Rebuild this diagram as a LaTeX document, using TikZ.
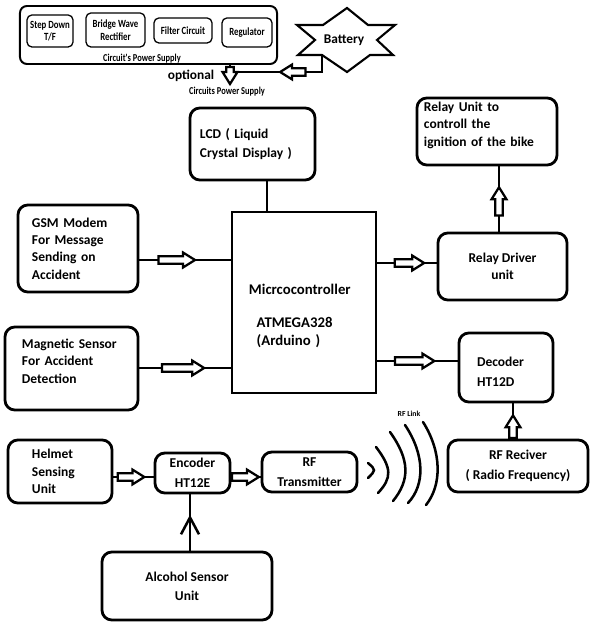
\documentclass[tikz,border=0pt]{standalone}
\usepackage{fontspec}
\setmainfont{Carlito}
\newfontfamily\condfont[FakeStretch=0.8]{Carlito}
\usetikzlibrary{decorations.markings}

\tikzset{
  box/.style={draw, line width=2pt, rounded corners=7pt, inner sep=0pt,
    font=\bfseries\fontsize{9.6}{12.4}\selectfont},
  psubox/.style={draw, line width=0.9pt, rounded corners=3.5pt, inner sep=0pt, align=center,
    font=\condfont\bfseries\fontsize{7.8}{9}\selectfont},
  small text/.style={font=\condfont\bfseries\fontsize{7.5}{9}\selectfont, inner sep=0pt},
  link/.style={line width=1.8pt},
  fat arrow/.style 2 args={postaction={decorate}, decoration={markings,
    mark=at position #1 with {\draw[line width=1.6pt, fill=white, line join=miter]
      (-#2,-2.6pt) -- (-8.5pt,-2.6pt) -- (-8.5pt,-5.3pt) -- (0,0) -- (-8.5pt,5.3pt)
      -- (-8.5pt,2.6pt) -- (-#2,2.6pt) -- cycle;}}},
  open arrow/.style={postaction={decorate}, decoration={markings,
    mark=at position #1 with {\draw[line width=1.8pt] (-12pt,-6.4pt) -- (0,0) -- (-12pt,6.4pt);}}},
}

\begin{document}
\begin{tikzpicture}[x=0.025cm, y=-0.025cm]
\useasboundingbox (0,0) rectangle (600,628);

% power supply block
\node[draw, line width=1.4pt, rounded corners=5pt, minimum width=6.425cm, minimum height=1.45cm] (psu) at (148.5,35) {};
\node[psubox, minimum width=1.15cm, minimum height=0.8cm] (stepdown) at (50,31) {Step Down\\T/F};
\node[psubox, minimum width=1.475cm, minimum height=0.85cm] (bridge) at (115.5,30) {Bridge Wave\\Rectifier};
\node[psubox, minimum width=1.45cm, minimum height=0.625cm] (filter) at (183,30.5) {Filter Circuit};
\node[psubox, minimum width=1.25cm, minimum height=0.725cm] (regulator) at (247,32.5) {Regulator};
\node[small text] (psulabel) at (142,59) {Circuit's Power Supply};

% battery
\begin{scope}[shift={(347,40)}]
  \draw[line width=1.5pt, line join=miter] (0,-32) -- (21,-15) -- (48,-15) -- (30,0) -- (46,15) -- (23,15)
    -- (0,32) -- (-25,15) -- (-49,15) -- (-32,0) -- (-50,-15) -- (-24,-15) -- cycle;
  \node[font=\bfseries\fontsize{9.5}{11}\selectfont] (battery) at (-3,0) {Battery};
  \coordinate (battout) at (-25,15);
\end{scope}
\coordinate (opt) at (230,72);
\coordinate (optend) at (230,84);
\draw[line width=1.5pt, fat arrow={0.54}{18pt}] (battout) |- (opt);
\draw[line width=1.5pt, fat arrow={1}{12pt}] (psu.south -| opt) -- (optend);
\node[font=\bfseries\fontsize{9.5}{11}\selectfont, inner sep=0pt] (optional) at (191,76) {optional};
\node[small text] (optlabel) at (227,92) {Circuits Power Supply};

% main blocks
\node[box, minimum width=3.125cm, minimum height=1.8cm, text width=2.625cm, align=left] (lcd) at (252.5,144) {LCD ( Liquid\\[1.6pt]Crystal Display )};
\node[draw, line width=2pt, inner sep=0pt, minimum width=3.6cm, minimum height=4.525cm, text width=2.75cm, align=left,
  text height=26pt, font=\bfseries\fontsize{10.5}{12.8}\selectfont] (mcu) at (304,302.5)
  {Micrcocontroller\\[10.6pt]\hspace*{5.5pt}ATMEGA328\\\hspace*{5.5pt}(Arduino )};
\node[box, minimum width=3cm, minimum height=2.175cm, text width=2.3cm, align=left] (gsm) at (78,248.5) {GSM Modem\\For Message\\Sending on\\Accident};
\node[box, minimum width=3.325cm, minimum height=2.075cm, text width=2.475cm, align=left, text depth=35.3pt] (mag) at (71.5,368.5) {Magnetic Sensor\\For Accident\\Detection};
\node[box, minimum width=3.5cm, minimum height=1.675cm, text width=3.15cm, align=left, text depth=35.6pt] (relayunit) at (487,131.5) {Relay Unit to\\controll the\\ignition of the bike};
\node[box, minimum width=3.225cm, minimum height=1.675cm, align=center] (relaydriver) at (502.5,266.5) {Relay Driver\\unit};
\node[box, minimum width=2.35cm, minimum height=1.725cm, text width=1.45cm, align=left, text height=13pt] (decoder) at (506,367.5) {Decoder\\[2pt]HT12D};
\node[box, minimum width=3.5cm, minimum height=1.3cm, align=center] (rfrx) at (518,466) {RF Reciver\\[2pt]( Radio Frequency)};
\node[box, minimum width=2.6cm, minimum height=1.575cm, text width=1.4cm, align=left] (helmet) at (60,471.5) {Helmet\\Sensing\\Unit};
\node[box, minimum width=1.875cm, minimum height=1cm, align=center] (encoder) at (192.5,473) {Encoder\\[2pt]HT12E};
\node[box, minimum width=2.375cm, minimum height=1cm, align=center] (rftx) at (309.5,472) {RF\\[2pt]Transmitter};
\node[box, minimum width=4.25cm, minimum height=1.7cm, align=center] (alcohol) at (187,586) {Alcohol Sensor\\[1pt]Unit};

% connections
\draw[link] (lcd.south -| 267,0) -- (mcu.north -| 267,0);
\draw[link, fat arrow={0.61}{26pt}] (gsm.east |- 0,260) -- (mcu.west |- 0,260);
\draw[link, fat arrow={0.71}{30pt}] (mag.east |- 0,368) -- (mcu.west |- 0,368);
\draw[link, fat arrow={0.79}{21pt}] (mcu.east |- 0,263) -- (relaydriver.west |- 0,263);
\draw[link, fat arrow={0.71}{28pt}] (mcu.east |- 0,361) -- (decoder.west |- 0,361);
\draw[link, fat arrow={0.68}{20pt}] (relaydriver.north -| 499,0) -- (relayunit.south -| 499,0);
\draw[link, fat arrow={0.66}{16pt}] (rfrx.north -| 513,0) -- (decoder.south -| 513,0);
\draw[link, fat arrow={0.77}{19pt}] (helmet.east |- 0,477) -- (encoder.west |- 0,477);
\draw[link, fat arrow={0.94}{19pt}] (encoder.east |- 0,477) -- (rftx.west |- 0,477);
\draw[link, open arrow=0.59] (alcohol.north -| 190,0) -- (encoder.south -| 190,0);

% rf link waves
\draw[link, line cap=round] (368,463) .. controls (376,470) .. (368,478);
\draw[link, line cap=round] (376,447) .. controls (392,468) and (392,478) .. (378,493);
\draw[link, line cap=round] (390,432) .. controls (410,460) and (410,480) .. (393,501);
\draw[link, line cap=round] (405,425) .. controls (425,455) and (425,485) .. (408,503);
\draw[link, line cap=round] (423,422) .. controls (442,452) and (442,485) .. (426,505);
\node[font=\bfseries\fontsize{5.5}{6}\selectfont, inner sep=0pt] (rflink) at (409,414) {RF Link};
\end{tikzpicture}
\end{document}
